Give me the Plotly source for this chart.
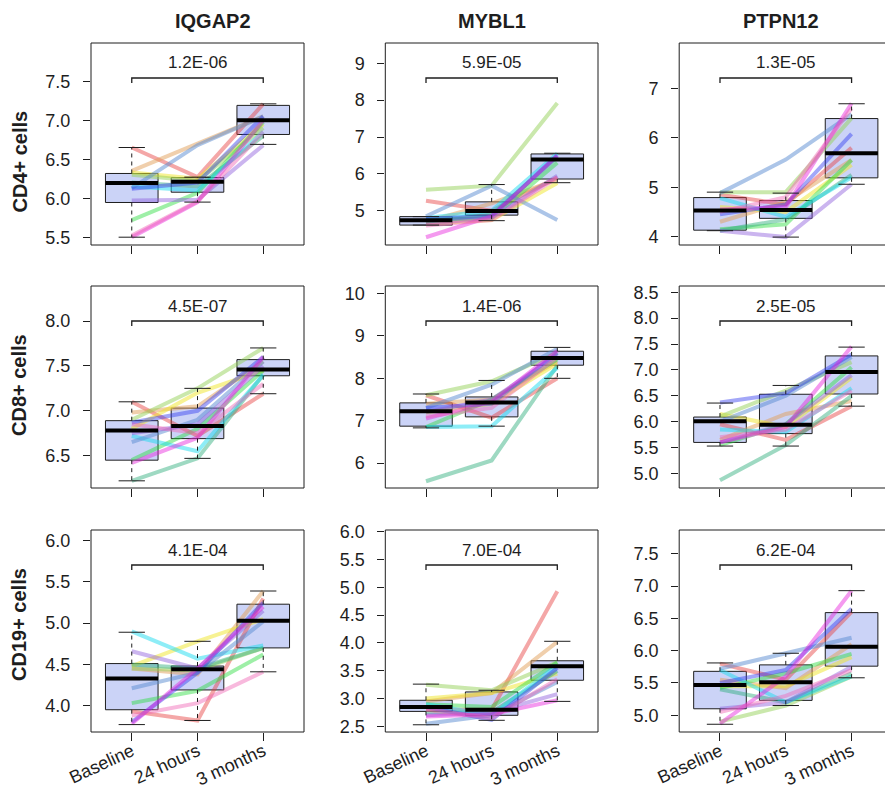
import plotly.graph_objects as go

# ---------------- data ----------------
GENES = ["IQGAP2", "MYBL1", "PTPN12"]
CELLS = ["CD4+ cells", "CD8+ cells", "CD19+ cells"]
TIMEPOINTS = ["Baseline", "24 hours", "3 months"]
POS = [1, 2, 3]

P_VALUES = [
    ["1.2E-06", "5.9E-05", "1.3E-05"],
    ["4.5E-07", "1.4E-06", "2.5E-05"],
    ["4.1E-04", "7.0E-04", "6.2E-04"],
]

# box statistics per panel: [Baseline, 24 hours, 3 months]
BOX_IQGAP2_CD4 = dict(q1=[5.945, 6.077, 6.817], med=[6.196, 6.21, 7.00], q3=[6.317, 6.265, 7.19], lo=[5.50, 5.95, 6.69], hi=[6.65, 6.27, 7.21])
BOX_MYBL1_CD4 = dict(q1=[4.61, 4.88, 5.86], med=[4.74, 4.99, 6.39], q3=[4.84, 5.24, 6.54], lo=[4.61, 4.73, 5.76], hi=[4.84, 5.71, 6.56])
BOX_PTPN12_CD4 = dict(q1=[4.13, 4.37, 5.19], med=[4.53, 4.54, 5.69], q3=[4.79, 4.73, 6.39], lo=[4.12, 3.99, 5.06], hi=[4.90, 4.88, 6.69])
BOX_IQGAP2_CD8 = dict(q1=[6.45, 6.69, 7.39], med=[6.78, 6.83, 7.46], q3=[6.89, 7.03, 7.57], lo=[6.22, 6.47, 7.19], hi=[7.10, 7.25, 7.70])
BOX_MYBL1_CD8 = dict(q1=[6.87, 7.09, 8.31], med=[7.22, 7.43, 8.48], q3=[7.42, 7.56, 8.64], lo=[6.83, 6.87, 8.00], hi=[7.63, 7.95, 8.73])
BOX_PTPN12_CD8 = dict(q1=[5.60, 5.77, 6.535], med=[6.01, 5.94, 6.96], q3=[6.09, 6.53, 7.27], lo=[5.53, 5.53, 6.30], hi=[6.36, 6.70, 7.44])
BOX_IQGAP2_CD19 = dict(q1=[3.95, 4.19, 4.70], med=[4.33, 4.44, 5.03], q3=[4.51, 4.48, 5.23], lo=[3.77, 3.82, 4.41], hi=[4.89, 4.78, 5.39])
BOX_MYBL1_CD19 = dict(q1=[2.77, 2.70, 3.33], med=[2.85, 2.80, 3.58], q3=[2.97, 3.12, 3.68], lo=[2.53, 2.61, 2.95], hi=[3.26, 3.15, 4.03])
BOX_PTPN12_CD19 = dict(q1=[5.10, 5.23, 5.76], med=[5.47, 5.51, 6.06], q3=[5.68, 5.78, 6.59], lo=[4.86, 5.15, 5.58], hi=[5.81, 5.96, 6.93])

# per-subject trajectories (Baseline, 24 hours, 3 months), subject order fixed
LINES_IQGAP2_CD4 = [(6.65, 6.27, 7.21), (6.35, 6.70, 7.05), (6.33, 6.25, 6.95), (6.30, 6.22, 6.90),
                    (5.72, 6.07, 6.98), (6.20, 6.15, 6.80), (6.15, 6.10, 6.85), (6.13, 6.68, 7.05),
                    (6.12, 6.20, 7.05), (5.97, 5.98, 6.68), (5.50, 5.95, 7.00), (5.52, 5.96, 6.85)]
LINES_MYBL1_CD4 = [(5.27, 5.00, 5.90), (4.70, 5.20, 5.85), (4.65, 4.75, 5.75), (5.57, 5.68, 7.92),
                   (4.75, 4.80, 6.30), (4.70, 4.90, 6.45), (4.80, 5.00, 6.55), (4.85, 5.68, 4.75),
                   (4.78, 4.85, 6.50), (4.65, 4.80, 5.95), (4.28, 4.85, 6.50), (4.60, 4.75, 5.90)]
LINES_PTPN12_CD4 = [(4.85, 4.65, 5.80), (4.30, 4.70, 5.55), (4.60, 4.50, 5.45), (4.90, 4.90, 6.40),
                    (4.15, 4.25, 5.55), (4.12, 4.35, 5.25), (4.78, 4.40, 5.20), (4.88, 5.56, 6.48),
                    (4.45, 4.65, 6.08), (4.12, 3.99, 5.06), (4.55, 4.60, 6.70), (4.50, 4.80, 6.60)]
LINES_IQGAP2_CD8 = [(7.10, 6.72, 7.19), (6.98, 7.05, 7.55), (6.80, 7.20, 7.45), (6.90, 7.25, 7.70),
                    (6.45, 6.80, 7.45), (6.22, 6.47, 7.40), (6.72, 6.55, 7.40), (6.65, 6.90, 7.55),
                    (6.87, 7.00, 7.60), (6.75, 6.85, 7.50), (6.42, 6.70, 7.60), (6.85, 6.75, 7.30)]
LINES_MYBL1_CD8 = [(7.60, 7.07, 8.00), (7.40, 7.50, 8.40), (7.20, 7.40, 8.35), (7.60, 7.93, 8.60),
                   (6.85, 7.50, 8.45), (5.57, 6.06, 8.30), (6.85, 6.87, 8.25), (7.30, 7.85, 8.70),
                   (7.30, 7.40, 8.60), (7.20, 7.50, 8.55), (7.05, 7.45, 8.65), (7.10, 7.30, 8.50)]
LINES_PTPN12_CD8 = [(5.95, 5.65, 6.30), (5.65, 6.15, 6.40), (6.15, 5.90, 6.85), (6.10, 6.60, 7.15),
                    (5.55, 5.95, 7.05), (4.87, 5.55, 6.50), (5.85, 5.80, 6.65), (6.00, 6.50, 7.25),
                    (6.37, 6.55, 7.30), (5.60, 5.95, 6.90), (5.60, 5.90, 7.45), (5.70, 5.85, 6.60)]
LINES_IQGAP2_CD19 = [(3.93, 3.82, 5.30), (4.45, 4.38, 5.39), (4.48, 4.78, 5.05), (4.45, 4.43, 4.70),
                     (4.03, 4.18, 4.62), (4.50, 4.45, 4.70), (4.90, 4.57, 4.73), (4.21, 4.40, 5.02),
                     (3.80, 4.40, 5.25), (4.66, 4.45, 5.15), (3.78, 4.45, 5.20), (3.88, 4.03, 4.41)]
LINES_MYBL1_CD19 = [(2.80, 2.80, 4.93), (2.95, 3.10, 4.02), (3.00, 3.10, 3.45), (3.25, 3.15, 3.65),
                    (2.90, 2.85, 3.65), (2.75, 2.75, 3.50), (2.90, 2.70, 3.60), (2.55, 2.70, 3.30),
                    (2.85, 2.62, 3.55), (2.70, 2.75, 3.08), (2.68, 2.72, 2.97), (2.80, 2.65, 3.35)]
LINES_PTPN12_CD19 = [(5.80, 5.55, 6.60), (5.55, 5.42, 6.10), (5.45, 5.45, 5.90), (4.90, 5.15, 5.60),
                     (5.42, 5.65, 5.95), (5.40, 5.20, 5.65), (5.70, 5.20, 5.60), (5.72, 5.96, 6.20),
                     (5.50, 5.70, 6.65), (5.10, 5.20, 5.75), (4.87, 5.60, 6.93), (5.05, 5.30, 5.70)]

Y_RANGES = [
    [[5.40, 7.99], [4.07, 9.55], [3.83, 7.92]],
    [[6.14, 8.39], [5.41, 10.18], [4.72, 8.62]],
    [[3.68, 6.13], [2.40, 6.03], [4.74, 7.87]],
]
Y_TICKS = [
    [[5.5, 6.0, 6.5, 7.0, 7.5], [5, 6, 7, 8, 9], [4, 5, 6, 7]],
    [[6.5, 7.0, 7.5, 8.0], [6, 7, 8, 9, 10], [5.0, 5.5, 6.0, 6.5, 7.0, 7.5, 8.0, 8.5]],
    [[4.0, 4.5, 5.0, 5.5, 6.0], [2.5, 3.0, 3.5, 4.0, 4.5, 5.0, 5.5, 6.0], [5.0, 5.5, 6.0, 6.5, 7.0, 7.5]],
]
Y_FORMATS = [[".1f", ".0f", ".0f"], [".1f", ".0f", ".1f"], [".1f", ".1f", ".1f"]]

BOXES = [[BOX_IQGAP2_CD4, BOX_MYBL1_CD4, BOX_PTPN12_CD4],
         [BOX_IQGAP2_CD8, BOX_MYBL1_CD8, BOX_PTPN12_CD8],
         [BOX_IQGAP2_CD19, BOX_MYBL1_CD19, BOX_PTPN12_CD19]]
LINES = [[LINES_IQGAP2_CD4, LINES_MYBL1_CD4, LINES_PTPN12_CD4],
         [LINES_IQGAP2_CD8, LINES_MYBL1_CD8, LINES_PTPN12_CD8],
         [LINES_IQGAP2_CD19, LINES_MYBL1_CD19, LINES_PTPN12_CD19]]

SUBJECT_COLORS = [
    "rgba(230,60,60,0.45)", "rgba(225,160,90,0.5)", "rgba(240,230,40,0.5)", "rgba(150,210,90,0.5)",
    "rgba(40,220,60,0.45)", "rgba(40,170,120,0.45)", "rgba(30,220,240,0.5)", "rgba(90,140,210,0.5)",
    "rgba(50,60,240,0.45)", "rgba(140,90,220,0.45)", "rgba(230,30,220,0.45)", "rgba(240,100,180,0.45)",
]

# ---------------- layout constants (pixels) ----------------
W, H = 885, 792
COL_X = [(91, 304), (385.3, 598), (679.2, 885)]
COL_XRANGE = [[0.38, 3.62], [0.38, 3.62], [0.38, 3.508]]
ROW_Y = [(43, 245), (286, 488), (530, 732)]
TITLE_X = [212.5, 492, 781]
ROWLAB_Y = [161.5, 385, 625]
BOX_HALF = 0.4
CAP_HALF = 0.2
FONT = "Liberation Sans, Arial, sans-serif"
INK = "#1e1e1e"
BOX_FILL = "#cbd3f7"

fig = go.Figure()
shapes, annotations = [], []

for r in range(3):
    for c in range(3):
        k = r * 3 + c + 1
        xa = "x" if k == 1 else f"x{k}"
        ya = "y" if k == 1 else f"y{k}"
        b = BOXES[r][c]
        # box fill
        fig.add_trace(go.Box(x=POS, q1=b["q1"], median=b["med"], q3=b["q3"],
                             lowerfence=b["q1"], upperfence=b["q3"], width=2 * BOX_HALF,
                             fillcolor=BOX_FILL, line=dict(color="rgba(0,0,0,0)", width=0),
                             whiskerwidth=0, xaxis=xa, yaxis=ya, showlegend=False, hoverinfo="skip"))
        # subject lines
        for i, traj in enumerate(LINES[r][c]):
            fig.add_trace(go.Scatter(x=POS, y=list(traj), mode="lines",
                                     line=dict(color=SUBJECT_COLORS[i], width=4),
                                     xaxis=xa, yaxis=ya, showlegend=False, hoverinfo="skip"))
        # box outline
        fig.add_trace(go.Box(x=POS, q1=b["q1"], median=b["med"], q3=b["q3"],
                             lowerfence=b["q1"], upperfence=b["q3"], width=2 * BOX_HALF,
                             fillcolor="rgba(0,0,0,0)", line=dict(color=INK, width=1),
                             whiskerwidth=0, xaxis=xa, yaxis=ya, showlegend=False, hoverinfo="skip"))
        # dashed whiskers, caps, medians
        wx, wy, cx, cy, mx, my = [], [], [], [], [], []
        for j, p in enumerate(POS):
            wx += [p, p, None, p, p, None]
            wy += [b["q3"][j], b["hi"][j], None, b["q1"][j], b["lo"][j], None]
            cx += [p - CAP_HALF, p + CAP_HALF, None, p - CAP_HALF, p + CAP_HALF, None]
            cy += [b["hi"][j], b["hi"][j], None, b["lo"][j], b["lo"][j], None]
            mx += [p - BOX_HALF, p + BOX_HALF, None]
            my += [b["med"][j], b["med"][j], None]
        fig.add_trace(go.Scatter(x=wx, y=wy, mode="lines", line=dict(color=INK, width=1, dash="4px,4px"),
                                 xaxis=xa, yaxis=ya, showlegend=False, hoverinfo="skip"))
        fig.add_trace(go.Scatter(x=cx, y=cy, mode="lines", line=dict(color=INK, width=1),
                                 xaxis=xa, yaxis=ya, showlegend=False, hoverinfo="skip"))
        fig.add_trace(go.Scatter(x=mx, y=my, mode="lines", line=dict(color="black", width=4),
                                 xaxis=xa, yaxis=ya, showlegend=False, hoverinfo="skip"))

        x0, x1 = COL_X[c]
        y0, y1 = ROW_Y[r]
        xkey = "xaxis" if k == 1 else f"xaxis{k}"
        ykey = "yaxis" if k == 1 else f"yaxis{k}"
        fig.layout[xkey] = dict(
            domain=[x0 / W, x1 / W], range=COL_XRANGE[c], anchor=ya, automargin=False,
            tickvals=POS, ticktext=TIMEPOINTS if r == 2 else ["", "", ""],
            showticklabels=(r == 2), tickangle=-25, ticks="outside", ticklen=8,
            tickcolor=INK, tickwidth=1, showline=False, showgrid=False, zeroline=False,
            tickfont=dict(family=FONT, size=18, color=INK), ticklabelstandoff=-7,
        )
        fig.layout[ykey] = dict(
            domain=[1 - y1 / H, 1 - y0 / H], range=Y_RANGES[r][c], anchor=xa, automargin=False,
            tickvals=Y_TICKS[r][c], tickformat=Y_FORMATS[r][c], ticks="outside", ticklen=7,
            tickcolor=INK, tickwidth=1, showline=False, showgrid=False, zeroline=False,
            tickfont=dict(family=FONT, size=18, color=INK), ticklabelstandoff=9,
        )
        # panel frame (third column runs past the right edge of the picture)
        frame_x1 = 1.0 if c < 2 else (892.5 - x0) / (x1 - x0)
        shapes.append(dict(type="rect", xref=f"{xa} domain", yref=f"{ya} domain",
                           x0=0, x1=frame_x1, y0=0, y1=1, line=dict(color=INK, width=1), layer="above"))
        # significance bracket
        h = y1 - y0
        yb = 1 - 35 / h
        yt = 1 - 40 / h
        shapes.append(dict(type="path", xref=xa, yref=f"{ya} domain",
                           path=f"M {POS[0]},{yt} L {POS[0]},{yb} L {POS[-1]},{yb} L {POS[-1]},{yt}",
                           line=dict(color=INK, width=1.3), layer="above"))
        annotations.append(dict(text=P_VALUES[r][c], xref=xa, yref=f"{ya} domain",
                                x=POS[1], y=1 - 20 / h, xanchor="center", yanchor="middle",
                                showarrow=False, font=dict(family=FONT, size=17, color=INK)))

for c in range(3):
    annotations.append(dict(text=f"<b>{GENES[c]}</b>", xref="paper", yref="paper",
                            x=TITLE_X[c] / W, y=1 - 21 / H, xanchor="center", yanchor="middle",
                            showarrow=False, font=dict(family=FONT, size=20, color=INK)))
for r in range(3):
    annotations.append(dict(text=f"<b>{CELLS[r]}</b>", xref="paper", yref="paper",
                            x=19 / W, y=1 - ROWLAB_Y[r] / H, xanchor="center", yanchor="middle",
                            textangle=-90, showarrow=False, font=dict(family=FONT, size=20, color=INK)))

fig.update_layout(width=W, height=H, margin=dict(l=0, r=0, t=0, b=0, pad=0, autoexpand=False),
                  paper_bgcolor="white", plot_bgcolor="white", boxmode="overlay",
                  shapes=shapes, annotations=annotations, showlegend=False)

fig.write_html("out.html", config={"displayModeBar": False},
               post_script="document.body.style.margin='0px';document.body.style.padding='0px';")
